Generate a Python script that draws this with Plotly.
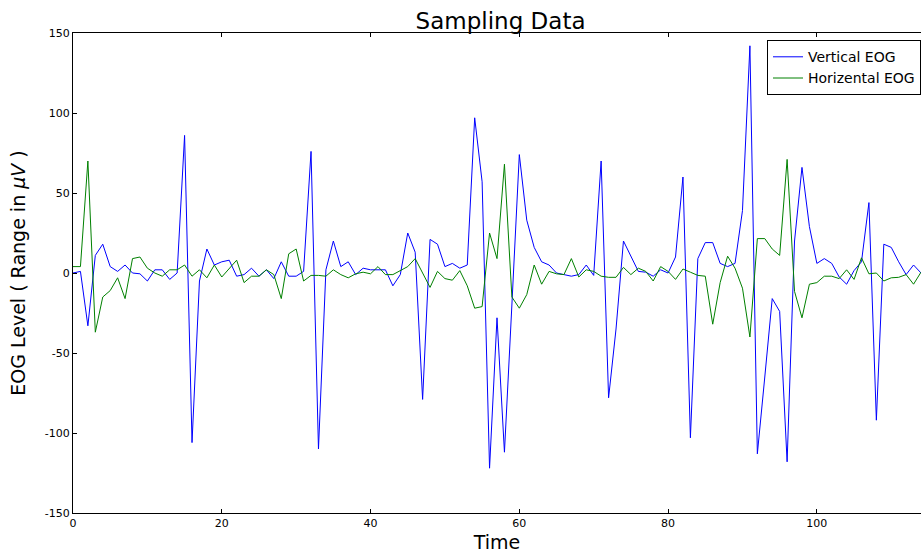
import plotly.graph_objects as go

time = list(range(115))
vertical_eog = [
    0, 1, -33, 11, 18, 4, 1, 5, 0, -0.5,
    -5, 2, 2, -4, 0, 86, -106, -5, 15, 5,
    7, 8, -2, -1, 3, -2, 2, -3.5, 7, -2,
    -2, 1, 76, -110, 2, 20, 4, 7, -1, 3,
    2, 2, 2, -8, -1, 25, 13, -79, 21, 18,
    4, 6, 3, 5, 97, 57, -122, -28, -112, -20,
    74, 33, 16, 7, 5, 0, -1, -2, -1, 5,
    -1.5, 70, -78, -35, 20, 11, 1, 0.5, -2, 2,
    0, 10, 60, -103, 9, 19, 19, 6, 4, 6,
    39, 142, -113, -65, -16, -24, -118, 20, 66, 29,
    6, 9, 6, -2.5, -7, 1.5, 7, 44, -92, 18,
    16, 7, -1, 5, 0,
]
horizontal_eog = [
    4, 4, 70, -37, -15, -11, -3, -16, 9, 10,
    3, 0, -2, 2, 2, 5, -2, 2, -3, 5,
    -2.5, 3, 8, -6, -2, -2, 2, -1, -16, 12,
    15, -5, -1.5, -1.5, -2, 2, -1, -3, -0.5, 0.5,
    -0.5, 4, -1, -1, 1.5, 4, 9, 0, -9, 1,
    -3.5, -4.5, 1.5, -8, -22, -21, 25, 9, 68, -15,
    -22, -13.5, 5, -7, 1, -0.5, -1, 9, -2.5, 2,
    1, -2, -2.7, -2.7, 3.5, -1, 3, 1, -5, 4,
    1, -4, 2.5, 0.5, -1.5, -2, -32, -6, 10.5, 3,
    -9.5, -40, 21.5, 21.5, 15, 11, 71, -11.5, -28, -7,
    -6, -2, -2, -3.5, 2, -4, 9.5, -0.5, 0, -5,
    -3, -2.7, -1, -7, 0.5,
]
x_ticks = [0, 20, 40, 60, 80, 100]
y_ticks = [-150, -100, -50, 0, 50, 100, 150]

fig = go.Figure()
fig.add_trace(go.Scatter(x=time, y=vertical_eog, mode="lines", name="Vertical EOG",
                         line=dict(color="#0000ff", width=1)))
fig.add_trace(go.Scatter(x=time, y=horizontal_eog, mode="lines", name="Horizental EOG",
                         line=dict(color="#008000", width=1)))

axis_common = dict(
    showgrid=False, zeroline=False, showline=True, linecolor="black", linewidth=1,
    ticks="inside", ticklen=4, tickcolor="black",
    tickfont=dict(family="DejaVu Sans", size=11, color="black"),
)
fig.update_layout(
    width=921, height=558,
    margin=dict(l=73, r=0, t=33, b=45),
    paper_bgcolor="white", plot_bgcolor="white",
    title=dict(text="Sampling Data", x=0.5435, xanchor="center", y=0.962, yanchor="middle",
               font=dict(family="DejaVu Sans", size=23, color="black")),
    xaxis=dict(range=[0, 114], tickvals=x_ticks, ticktext=[str(v) for v in x_ticks],
               mirror="ticks",
               title=dict(text="Time", font=dict(family="DejaVu Sans", size=19, color="black"),
                          standoff=6),
               **axis_common),
    yaxis=dict(range=[-150, 150], tickvals=y_ticks, ticktext=[str(v) for v in y_ticks],
               mirror=False,
               title=dict(text="EOG Level ( Range in <i>μV</i> )",
                          font=dict(family="DejaVu Sans", size=19, color="black"),
                          standoff=14),
               **axis_common),
    legend=dict(x=1.0, xanchor="right", y=0.985, yanchor="top",
                bordercolor="black", borderwidth=1, bgcolor="white",
                font=dict(family="DejaVu Sans", size=14, color="black"),
                tracegroupgap=0, itemwidth=30),
    showlegend=True,
)
fig.write_html(
    "out.html",
    config={"displayModeBar": False},
    post_script="document.body.style.margin='0';document.body.style.overflow='hidden';"
                "document.documentElement.style.overflow='hidden';",
)
